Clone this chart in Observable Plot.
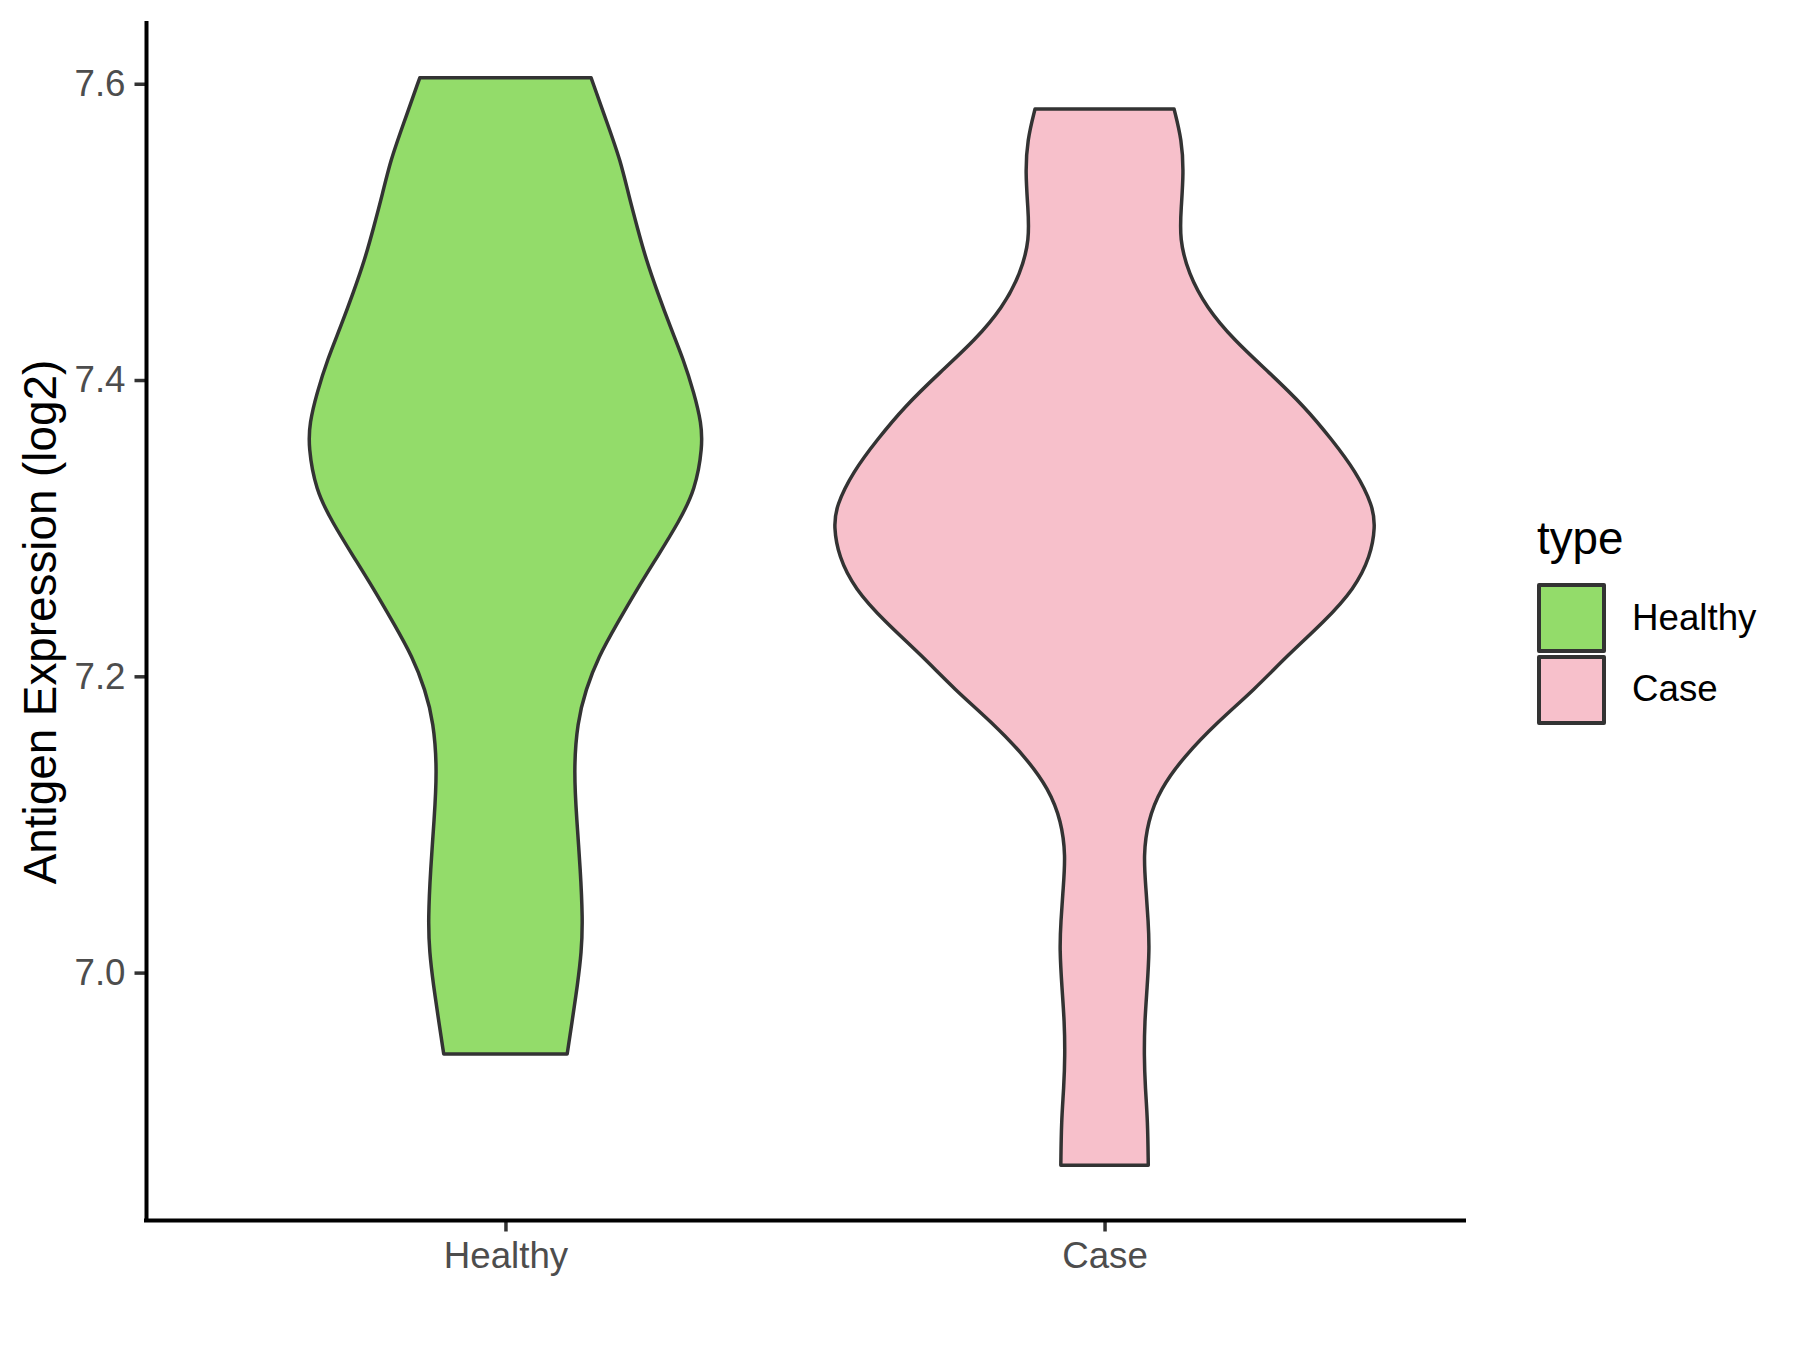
<!DOCTYPE html>
<html>
<head>
<meta charset="utf-8">
<script src="https://cdn.jsdelivr.net/npm/d3@7"></script>
<script src="https://cdn.jsdelivr.net/npm/@observablehq/plot@0.6"></script>
<style>
  html, body { margin: 0; padding: 0; background: #ffffff; }
  #wrap { position: relative; width: 1800px; height: 1350px; font-family: "Liberation Sans", Arial, sans-serif; }
  #legend { position: absolute; left: 0; top: 0; }
  .lg-title { position: absolute; font-size: 45.8px; line-height: 1; color: #000; white-space: nowrap; }
  .lg-label { position: absolute; font-size: 36.7px; line-height: 1; color: #000; white-space: nowrap; }
  .lg-key { position: absolute; box-sizing: border-box; width: 69px; height: 70px; border: 4px solid #333333; border-radius: 2px; }
</style>
</head>
<body>
<div id="wrap"><div id="chart"></div><div id="legend"></div></div>
<script>
// ---- data ----
const categories = ["Healthy", "Case"];
const fillColors = ["#93DC6A", "#F7C0CB"];
const legendTitle = "type";
const yLabel = "Antigen Expression (log2)";
const yTicks = [7.0, 7.2, 7.4, 7.6];
const yDomain = [6.833, 7.641];

// violin outlines: expression value and half-width (in category units)
const healthyY  = [6.945, 6.969, 6.991, 7.014, 7.036, 7.070, 7.103, 7.137, 7.169, 7.191, 7.213, 7.236, 7.259, 7.281, 7.304, 7.326, 7.355, 7.371, 7.391, 7.414, 7.436, 7.459, 7.481, 7.503, 7.526, 7.548, 7.571, 7.604];
const healthyHW = [0.103, 0.112, 0.120, 0.127, 0.129, 0.125, 0.119, 0.114, 0.120, 0.134, 0.155, 0.187, 0.220, 0.254, 0.289, 0.317, 0.329, 0.327, 0.315, 0.297, 0.275, 0.254, 0.235, 0.220, 0.205, 0.192, 0.172, 0.143];
const caseY  = [6.870, 6.900, 6.922, 6.944, 6.967, 6.989, 7.016, 7.034, 7.057, 7.079, 7.102, 7.124, 7.146, 7.169, 7.191, 7.214, 7.237, 7.259, 7.281, 7.301, 7.315, 7.338, 7.360, 7.382, 7.405, 7.427, 7.449, 7.472, 7.495, 7.517, 7.540, 7.562, 7.583];
const caseHW = [0.073, 0.072, 0.068, 0.066, 0.067, 0.071, 0.075, 0.073, 0.069, 0.065, 0.072, 0.093, 0.133, 0.188, 0.250, 0.305, 0.367, 0.417, 0.444, 0.452, 0.448, 0.420, 0.379, 0.334, 0.275, 0.216, 0.170, 0.140, 0.125, 0.128, 0.132, 0.129, 0.116];

// ---- build table ----
const series = [
  {type: "Healthy", ys: healthyY, hw: healthyHW},
  {type: "Case", ys: caseY, hw: caseHW}
];
const rows = [];
series.forEach(s => {
  const pos = categories.indexOf(s.type) + 1;
  s.ys.forEach((v, i) => rows.push({type: s.type, y: v, x1: pos - s.hw[i], x2: pos + s.hw[i]}));
});
const xDomain = [0.4, categories.length + 0.6];

const chart = Plot.plot({
  width: 1800,
  height: 1350,
  marginLeft: 146,
  marginRight: 336,
  marginTop: 23,
  marginBottom: 130,
  style: {fontFamily: "'Liberation Sans', Arial, sans-serif", background: "#ffffff"},
  x: {domain: xDomain, label: null},
  y: {domain: yDomain, label: null},
  color: {domain: categories, range: fillColors},
  marks: [
    Plot.areaX(rows, {
      y: "y", x1: "x1", x2: "x2", z: "type", fill: "type",
      stroke: "#333333", strokeWidth: 3.5, strokeLinejoin: "round",
      curve: "basis"
    }),
    Plot.axisX({
      ticks: categories.map((c, i) => i + 1),
      tickFormat: d => categories[d - 1],
      tickSize: 11.5, tickPadding: 9.5, fontSize: 36.7,
      stroke: "#333333", strokeWidth: 3.5, fill: "#4D4D4D", label: null
    }),
    Plot.axisY({
      ticks: yTicks, tickFormat: d3.format(".1f"),
      tickSize: 11.5, tickPadding: 9.5, fontSize: 36.7,
      stroke: "#333333", strokeWidth: 3.5, fill: "#4D4D4D", label: null
    }),
    Plot.ruleY([yDomain[0]], {stroke: "#000000", strokeWidth: 4, strokeLinecap: "square"}),
    Plot.ruleX([xDomain[0]], {stroke: "#000000", strokeWidth: 4, strokeLinecap: "square"}),
    Plot.text([yLabel], {
      text: d => d, frameAnchor: "left", rotate: -90, dx: -105,
      lineAnchor: "middle", textAnchor: "middle", fontSize: 45.8, fill: "#000000"
    })
  ]
});
document.getElementById("chart").appendChild(chart);

// ---- legend (HTML, right of the plot) ----
const legend = document.getElementById("legend");
const t = document.createElement("div");
t.className = "lg-title"; t.textContent = legendTitle;
t.style.left = "1537px"; t.style.top = "516px";
legend.appendChild(t);
categories.forEach((c, i) => {
  const k = document.createElement("div");
  k.className = "lg-key";
  k.style.left = "1537px"; k.style.top = (583 + i * 72) + "px";
  k.style.background = fillColors[i];
  legend.appendChild(k);
  const l = document.createElement("div");
  l.className = "lg-label"; l.textContent = c;
  l.style.left = "1632px"; l.style.top = (600 + i * 71) + "px";
  legend.appendChild(l);
});
</script>
</body>
</html>
